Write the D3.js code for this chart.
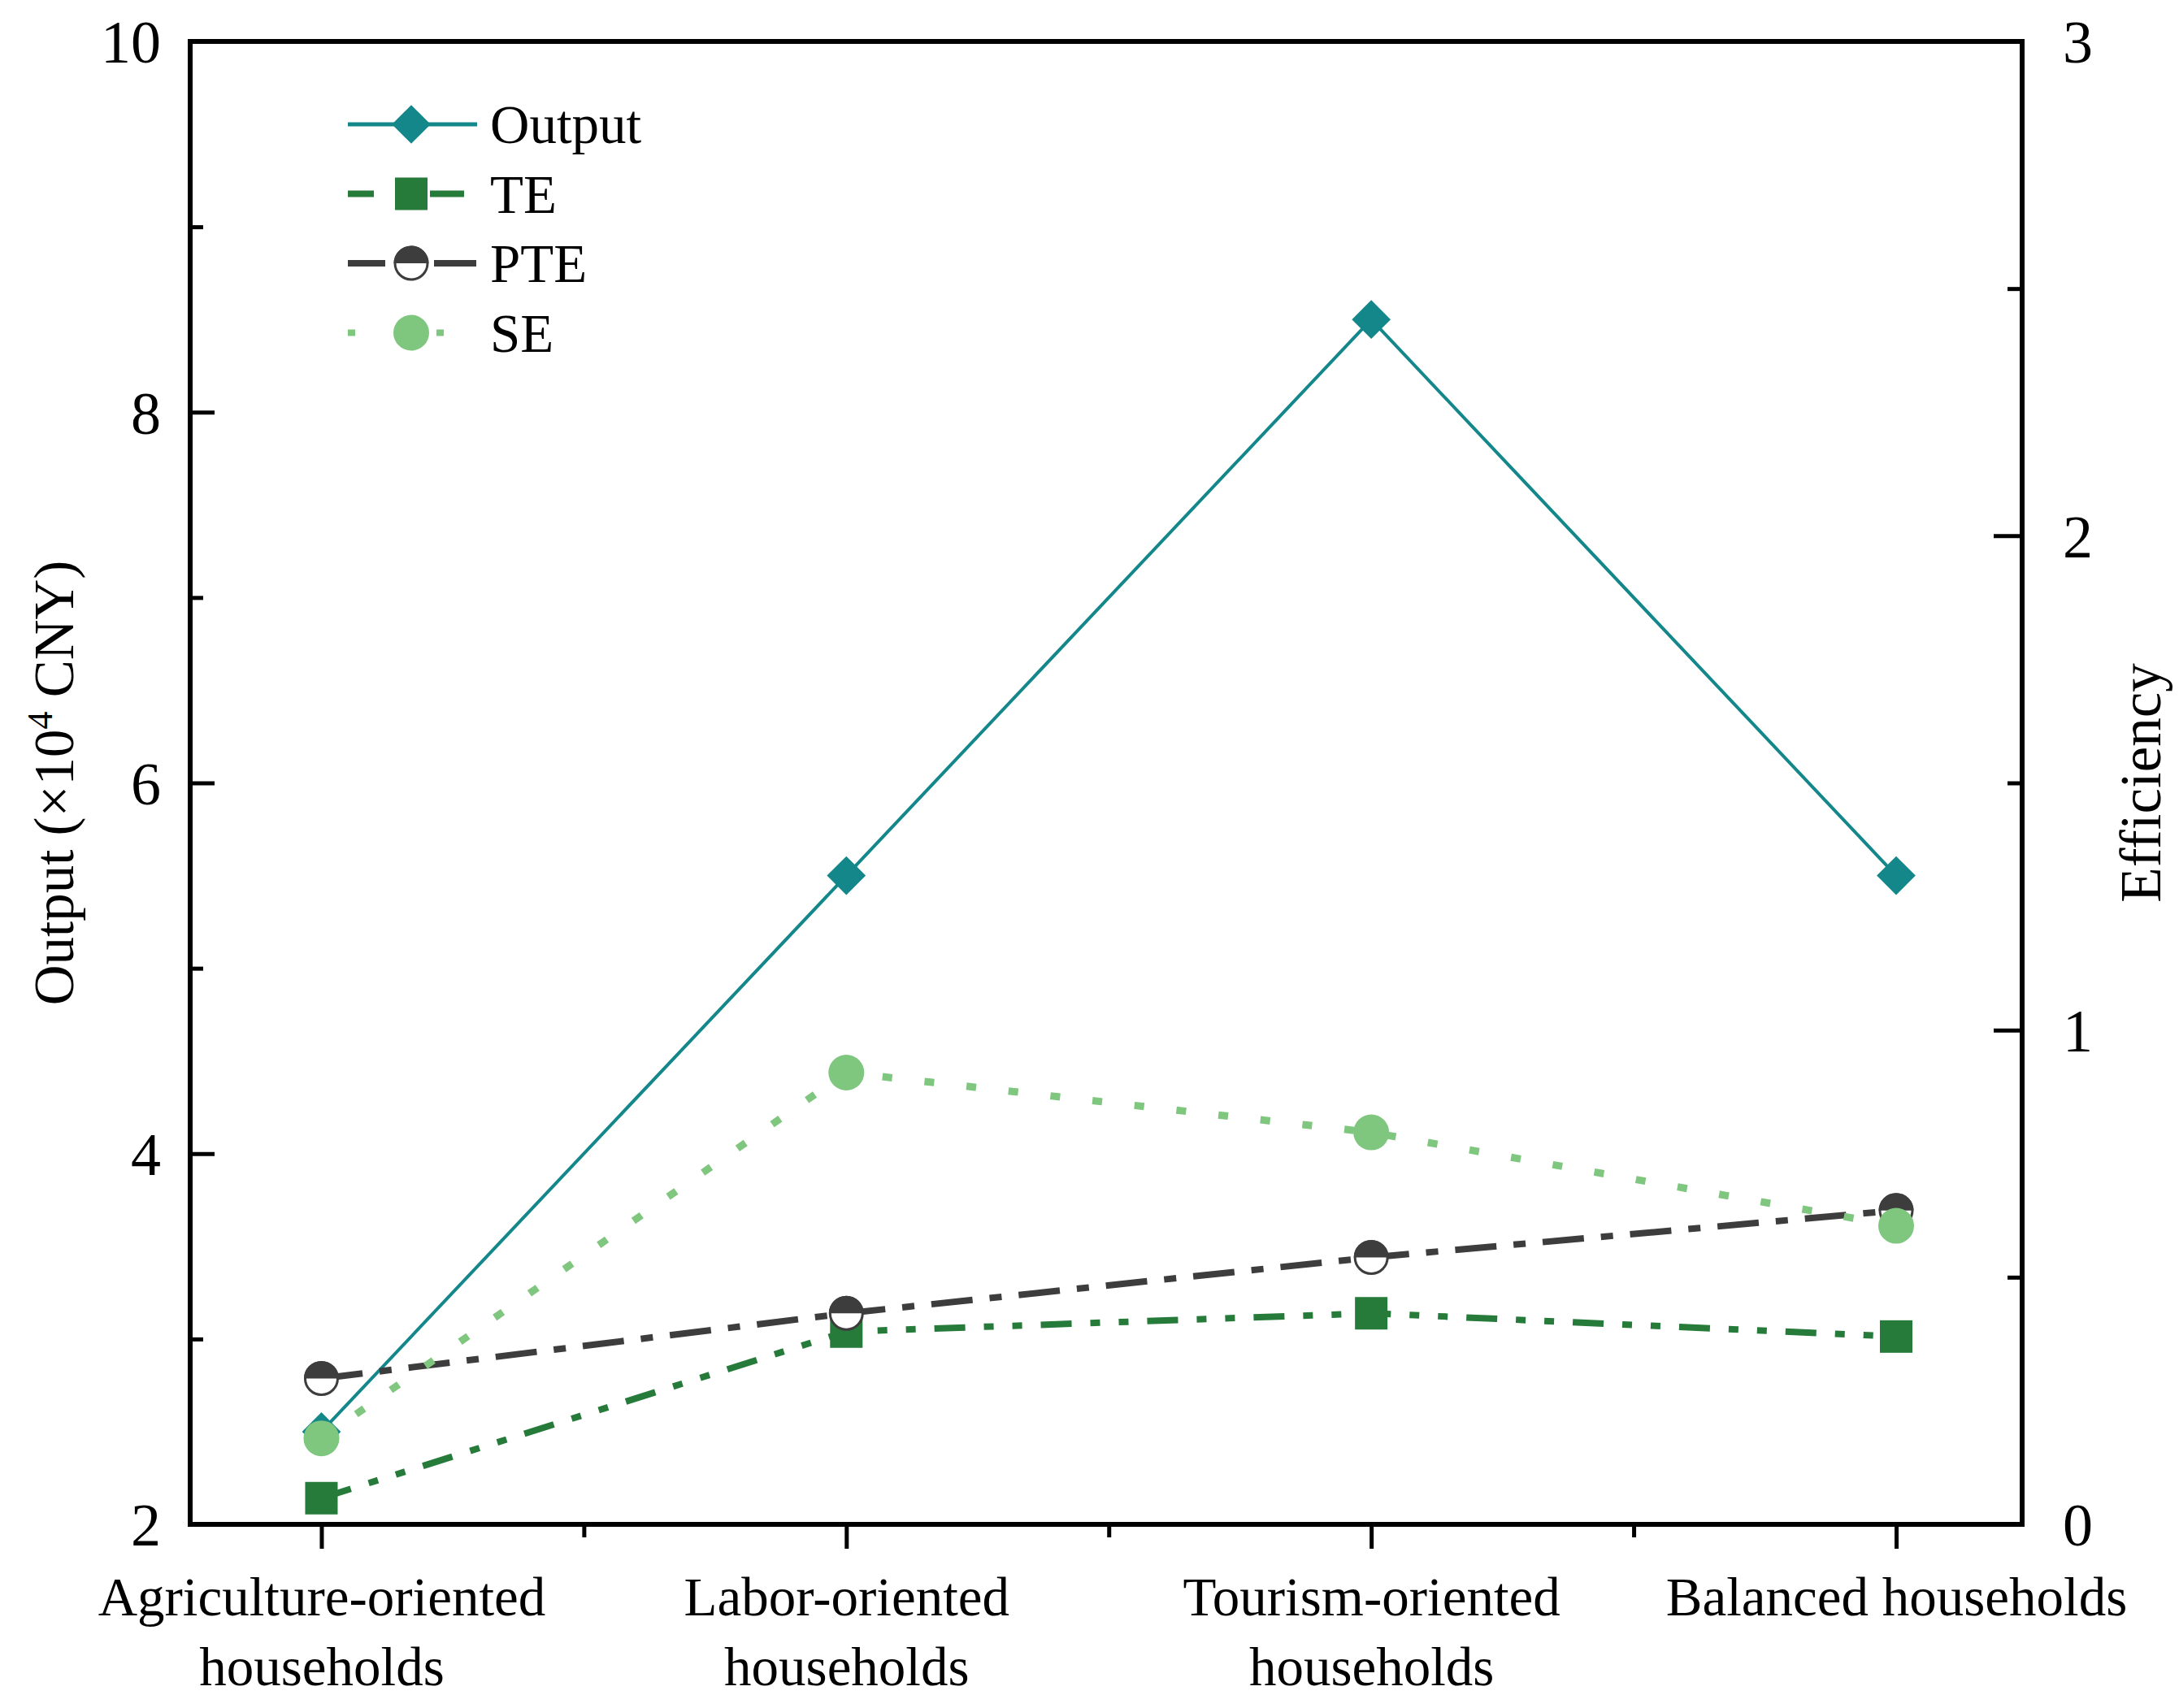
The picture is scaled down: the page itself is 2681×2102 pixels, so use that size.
<!DOCTYPE html>
<html>
<head>
<meta charset="utf-8">
<script src="https://cdn.jsdelivr.net/npm/d3@7"></script>
<style>
  body { margin: 0; background: #fff; }
  text { font-family: "Liberation Serif", "Times New Roman", serif; fill: #000; }
</style>
</head>
<body>
<div class="graph"></div>
<script>
// household groups on x
const categories = ["Agriculture-oriented households", "Labor-oriented households", "Tourism-oriented households", "Balanced households"];
const categoryLines = [["Agriculture-oriented", "households"], ["Labor-oriented", "households"], ["Tourism-oriented", "households"], ["Balanced households"]];

// left axis (x10^4 CNY)
const outputValues = [2.5, 5.5, 8.5, 5.5];
// right axis (efficiency)
const teValues = [0.053, 0.39, 0.427, 0.38];
const pteValues = [0.295, 0.427, 0.54, 0.635];
const seValues = [0.174, 0.914, 0.793, 0.604];

const leftTicks = [2, 4, 6, 8, 10];
const leftMinor = [3, 5, 7, 9];
const rightTicks = [0, 1, 2, 3];
const rightMinor = [0.5, 1.5, 2.5];
const xMinor = [0.5, 1.5, 2.5];

const W = 2681, H = 2102;
const margin = { top: 51, right: 193, bottom: 226, left: 234 };
const width = W - margin.left - margin.right,
  height = H - margin.top - margin.bottom;

const svg = d3.select(".graph").append("svg")
  .attr("width", W)
  .attr("height", H)
  .append("g")
  .attr("transform", "translate(" + margin.left + "," + margin.top + ")");

const x = d3.scaleLinear().domain([-0.25, 3.24]).range([0, width]);
const yL = d3.scaleLinear().domain([2, 10]).range([height, 0]);
const yR = d3.scaleLinear().domain([0, 3]).range([height, 0]);

const colors = { out: "#13878a", te: "#267b3a", pte: "#3d3d3d", se: "#7fc67f" };

// axes
const axisStyle = g => {
  g.select(".domain").remove();
  g.selectAll(".tick line").attr("stroke", "#000").attr("stroke-width", 5);
  g.selectAll(".tick text").style("font-size", "74px").attr("fill", "#000");
};

svg.append("g")
  .call(d3.axisLeft(yL).tickValues(leftMinor).tickSize(-16).tickFormat(""))
  .call(axisStyle);
svg.append("g")
  .call(d3.axisLeft(yL).tickValues(leftTicks).tickSize(-30).tickPadding(36))
  .call(axisStyle)
  .selectAll(".tick text").attr("dy", "0.35em");

svg.append("g")
  .attr("transform", "translate(" + width + ",0)")
  .call(d3.axisRight(yR).tickValues(rightMinor).tickSize(-18).tickFormat(""))
  .call(axisStyle);
svg.append("g")
  .attr("transform", "translate(" + width + ",0)")
  .call(d3.axisRight(yR).tickValues(rightTicks).tickSize(-35).tickPadding(50).tickFormat(d3.format("d")))
  .call(axisStyle)
  .selectAll(".tick text").attr("dy", "0.35em");

svg.append("g")
  .attr("transform", "translate(0," + height + ")")
  .call(d3.axisBottom(x).tickValues(xMinor).tickSize(16).tickFormat(""))
  .call(axisStyle);
const xAxis = svg.append("g")
  .attr("transform", "translate(0," + height + ")")
  .call(d3.axisBottom(x).tickValues(d3.range(categories.length)).tickSize(30).tickFormat(""))
  .call(axisStyle);

xAxis.selectAll(".tick").each(function (d) {
  const t = d3.select(this).append("text")
    .attr("text-anchor", "middle")
    .style("font-size", "67px")
    .attr("fill", "#000");
  categoryLines[d].forEach((line, i) => {
    t.append("tspan").attr("x", 0).attr("y", 112 + i * 86).text(line);
  });
});

// frame
svg.append("rect")
  .attr("width", width)
  .attr("height", height)
  .attr("fill", "none")
  .attr("stroke", "#000")
  .attr("stroke-width", 6);

// axis titles
const yTitle = svg.append("text")
  .attr("transform", "translate(" + (66 - margin.left) + "," + (height / 2) + ") rotate(-90)")
  .attr("text-anchor", "middle")
  .attr("dy", "0.35em")
  .style("font-size", "69px");
yTitle.append("tspan").text("Output (×10");
yTitle.append("tspan").attr("dy", "-26").style("font-size", "44px").text("4");
yTitle.append("tspan").attr("dy", "26").text(" CNY)");

svg.append("text")
  .attr("transform", "translate(" + (2633 - margin.left) + "," + (height / 2) + ") rotate(-90)")
  .attr("text-anchor", "middle")
  .attr("dy", "0.35em")
  .style("font-size", "71px")
  .text("Efficiency");

// lines
const idx = d3.range(categories.length);
const lineL = d3.line().x(i => x(i)).y(i => yL(outputValues[i]));
const lineR = vals => d3.line().x(i => x(i)).y(i => yR(vals[i]));

const series = [
  { key: "out", name: "Output", line: lineL, width: 4, dash: null, legendDash: null },
  { key: "te", name: "TE", line: lineR(teValues), width: 8, dash: "38,23,12,23,12,23", legendDash: "32,69,42,200" },
  { key: "pte", name: "PTE", line: lineR(pteValues), width: 8, dash: "51,21,15,21", legendDash: "46,60,52,200" },
  { key: "se", name: "SE", line: lineR(seValues), width: 9, dash: "12,40", legendDash: "9,100,9,200" }
];

const diamond = d3.symbol().type(d3.symbolDiamond2).size(1450);

function drawMarker(g, key, cx, cy) {
  if (key === "out") {
    g.append("path").attr("d", diamond()).attr("transform", "translate(" + cx + "," + cy + ")")
      .attr("fill", colors.out);
  } else if (key === "te") {
    g.append("rect").attr("x", cx - 20).attr("y", cy - 20).attr("width", 40).attr("height", 40)
      .attr("fill", colors.te);
  } else if (key === "pte") {
    g.append("circle").attr("cx", cx).attr("cy", cy).attr("r", 20)
      .attr("fill", "#fff").attr("stroke", colors.pte).attr("stroke-width", 3);
    g.append("path")
      .attr("d", d3.arc().innerRadius(0).outerRadius(21.5).startAngle(-Math.PI / 2).endAngle(Math.PI / 2)())
      .attr("transform", "translate(" + cx + "," + cy + ")")
      .attr("fill", colors.pte);
  } else {
    g.append("circle").attr("cx", cx).attr("cy", cy).attr("r", 22).attr("fill", colors.se);
  }
}

series.forEach(s => {
  svg.append("path")
    .datum(idx)
    .attr("fill", "none")
    .attr("stroke", colors[s.key])
    .attr("stroke-width", s.width)
    .attr("stroke-dasharray", s.dash)
    .attr("d", s.line);
  const vals = s.key === "out" ? outputValues : s.key === "te" ? teValues : s.key === "pte" ? pteValues : seValues;
  const scale = s.key === "out" ? yL : yR;
  const g = svg.append("g");
  idx.forEach(i => drawMarker(g, s.key, x(i), scale(vals[i])));
});

// legend
const legend = svg.append("g").attr("transform", "translate(" + (428 - margin.left) + "," + (153 - margin.top) + ")");
series.forEach((s, i) => {
  const g = legend.append("g").attr("transform", "translate(0," + i * 85.5 + ")");
  g.append("line")
    .attr("x1", 0).attr("x2", 159)
    .attr("stroke", colors[s.key])
    .attr("stroke-width", s.key === "out" ? 5 : 8)
    .attr("stroke-dasharray", s.legendDash);
  drawMarker(g, s.key, 78, 0);
  g.append("text")
    .attr("x", 175)
    .attr("dy", "0.35em")
    .style("font-size", "67px")
    .text(s.name);
});
</script>
</body>
</html>
